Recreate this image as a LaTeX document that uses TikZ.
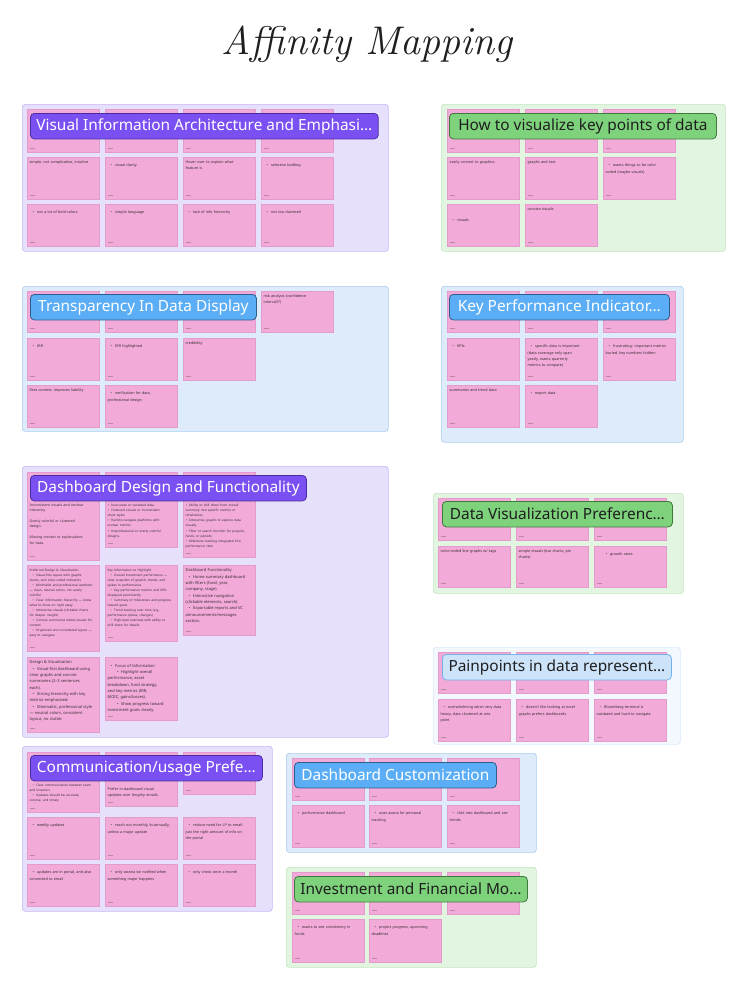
\documentclass[tikz,border=0pt]{standalone}
\usepackage{fontspec}
\newfontfamily\nsans{Noto Sans}
\usetikzlibrary{calc}
\definecolor{stkpink}{HTML}{F2AAD9}
\definecolor{stkedge}{HTML}{E39BCB}
\definecolor{notetext}{HTML}{3A2E36}
\definecolor{purpframe}{HTML}{E7E0FC}
\definecolor{purpedge}{HTML}{C8B7F6}
\definecolor{purptitle}{HTML}{7B50F2}
\definecolor{purptedge}{HTML}{4A2C9E}
\definecolor{greenframe}{HTML}{E2F5E0}
\definecolor{greenedge}{HTML}{C3E6BF}
\definecolor{greentitle}{HTML}{7ED27C}
\definecolor{greentedge}{HTML}{3F7A3C}
\definecolor{blueframe}{HTML}{DDEBFB}
\definecolor{blueedge}{HTML}{AACDF2}
\definecolor{bluetitle}{HTML}{5BAEF6}
\definecolor{bluetedge}{HTML}{2E5E8E}
\definecolor{paleframe}{HTML}{F3F8FE}
\definecolor{paleedge}{HTML}{DCEAF8}
\definecolor{paletitle}{HTML}{CDE3FA}
\definecolor{paletedge}{HTML}{74B2EE}
\definecolor{inkdark}{HTML}{1E1E1E}
\definecolor{footgray}{HTML}{B9879F}
% bullets
\newcommand\bu[1]{\par\hangindent=7.5pt\hangafter=1\noindent\hspace*{3pt}\makebox[4.5pt][l]{\textbullet}#1\par}
\newcommand\bum[1]{\par\hangindent=6.5pt\hangafter=1\noindent\hspace*{3pt}\makebox[3.5pt][l]{\textbullet}#1\par}
\newcommand\bus[1]{\par\hangindent=3.5pt\hangafter=1\noindent\hspace*{0.5pt}\makebox[3pt][l]{\textbullet}#1\par}
\newcommand\bub[1]{\par\hangindent=13.5pt\hangafter=1\noindent\hspace*{9.5pt}\makebox[4pt][l]{\textbullet}#1\par}
\newcommand\fA{\fontsize{3.7}{6.2}\selectfont}
\newcommand\fS{\fontsize{3.15}{5.05}\selectfont}
\newcommand\fL{\fontsize{4.0}{6.3}\selectfont}
% sticky note: [text offset]{name}{x}{y}{height}{content}
\newcommand\stk[6][3.5]{%
  \node[stk, minimum height=#5pt] (#2) at (#3,#4) {};
  \node[stktxt] (#2t) at ([xshift=2.5pt,yshift=-#1pt]#2.north west) {#6};
  \draw[foot] ([xshift=3pt,yshift=3.5pt]#2.south west) -- ++(4.5pt,0);
}
\begin{document}
\begin{tikzpicture}[x=1pt,y=-1pt,
  frm/.style={anchor=north west, rounded corners=3pt, line width=0.7pt, inner sep=0pt},
  stk/.style={anchor=north west, fill=stkpink, draw=stkedge, line width=0.3pt, minimum width=72pt, inner sep=0pt},
  stktxt/.style={anchor=north west, text width=70pt, inner sep=0pt, align=left, text=notetext, font=\nsans\fA},
  foot/.style={draw=footgray, line width=0.9pt},
  ttl/.style={anchor=north west, rounded corners=4pt, line width=0.8pt, minimum height=25.5pt, inner xsep=6pt, inner ysep=0pt, align=center, font=\nsans\fontsize{15.4}{16}\selectfont},
  ptitle/.style={ttl, fill=purptitle, draw=purptedge, text=white},
  gtitle/.style={ttl, fill=greentitle, draw=greentedge, text=inkdark},
  btitle/.style={ttl, fill=bluetitle, draw=bluetedge, text=white},
  pltitle/.style={ttl, fill=paletitle, draw=paletedge, text=inkdark},
]
\fill[white] (0,0) rectangle (748,988);
\path[use as bounding box] (0,0) rectangle (748,988);

% handwritten title
\node[font=\fontsize{40}{40}\selectfont\itshape, text=black!88, inner sep=0pt] (maintitle) at (367,44) {Affinity Mapping};

% ---------------- frames ----------------
\node[frm, fill=purpframe, draw=purpedge, minimum width=366pt, minimum height=147pt] (f1) at (22,104) {};
\node[frm, fill=greenframe, draw=greenedge, minimum width=284pt, minimum height=147pt] (f2) at (441,104) {};
\node[frm, fill=blueframe, draw=blueedge, minimum width=366pt, minimum height=145pt] (f3) at (22,286) {};
\node[frm, fill=blueframe, draw=blueedge, minimum width=242pt, minimum height=156pt] (f4) at (441,286) {};
\node[frm, fill=purpframe, draw=purpedge, minimum width=366pt, minimum height=271pt] (f5) at (22,466) {};
\node[frm, fill=greenframe, draw=greenedge, minimum width=250pt, minimum height=100pt] (f6) at (433,493) {};
\node[frm, fill=paleframe, draw=paleedge, minimum width=247pt, minimum height=97pt] (f7) at (433,647) {};
\node[frm, fill=purpframe, draw=purpedge, minimum width=250pt, minimum height=165pt] (f8) at (22,746) {};
\node[frm, fill=blueframe, draw=blueedge, minimum width=250pt, minimum height=99pt] (f9) at (286,753) {};
\node[frm, fill=greenframe, draw=greenedge, minimum width=250pt, minimum height=100pt] (f10) at (286,867) {};

% ---------------- section 1 ----------------
\stk{a11}{27}{109}{43}{}
\stk{a12}{105}{109}{43}{}
\stk{a13}{183}{109}{43}{}
\stk{a14}{261}{109}{43}{}
\stk{a21}{27}{157}{42}{simple, not complicative, intuitive}
\stk{a22}{105}{157}{42}{\bu{visual clarity}}
\stk{a23}{183}{157}{42}{Hover over to explain what\\feature is}
\stk{a24}{261}{157}{42}{\bu{selective bolding}}
\stk{a31}{27}{204}{42}{\bu{not a lot of bold colors}}
\stk{a32}{105}{204}{42}{\bu{simple language}}
\stk{a33}{183}{204}{42}{\bu{lack of info hierarchy}}
\stk{a34}{261}{204}{42}{\bu{not too cluttered}}

% ---------------- section 2 ----------------
\stk{b11}{447}{109}{43}{}
\stk{b12}{525}{109}{43}{}
\stk{b13}{603}{109}{43}{}
\stk{b21}{447}{157}{42}{easily convert to graphics}
\stk{b22}{525}{157}{42}{graphs and text}
\stk{b23}{603}{157}{42}{\bu{wants things to be color\\coded (maybe visuals)}}
\stk[11]{b31}{447}{204}{42}{\bu{visuals}}
\stk{b32}{525}{204}{42}{concise visuals}

% ---------------- section 3 ----------------
\stk{c11}{27}{291}{41}{}
\stk{c12}{105}{291}{41}{}
\stk{c13}{183}{291}{41}{}
\stk{c14}{261}{291}{41}{risk analysis (confidence\\interval??)}
\stk{c21}{27}{338}{42}{\bu{IRR}}
\stk{c22}{105}{338}{42}{\bu{IRR highlighted}}
\stk{c23}{183}{338}{42}{credibility}
\stk{c31}{27}{385}{42}{likes context, improves liability}
\stk{c32}{105}{385}{42}{\bu{verification for data,\\professional design}}

% ---------------- section 4 ----------------
\stk{k11}{447}{291}{41}{}
\stk{k12}{525}{291}{41}{}
\stk{k13}{603}{291}{41}{}
\stk{k21}{447}{338}{42}{\bu{KPIs}}
\stk{k22}{525}{338}{42}{\bu{specific data is important\\(data coverage only span\\yearly, wants quarterly\\metrics to compare)}}
\stk{k23}{603}{338}{42}{\bu{frustrating: important metrics\\buried, key numbers hidden}}
\stk{k31}{447}{385}{42}{summaries and trend data}
\stk{k32}{525}{385}{42}{\bu{export data}}

% ---------------- section 5 ----------------
\stk[31.5]{d11}{27}{472}{88}{\fontsize{3.5}{5.4}\selectfont Inconsistent visuals and unclear\\hierarchy.\\[5.4pt]Overly colorful or cluttered\\design.\\[5.4pt]Missing context or explanations\\for data.}
\stk[29.5]{d12}{105}{472}{75}{\fS\bus{Inaccurate or outdated data.}\bus{Cluttered visuals or inconsistent\\chart styles}\bus{Hard-to-navigate platforms with\\unclear metrics}\bus{Unprofessional or overly colorful\\designs.}}
\stk[29.5]{d13}{183}{472}{85}{\fS\bus{Ability to drill down from overall\\summary into specific metrics or\\timeframes}\bus{Interactive graphs to explore data\\visually}\bus{Filter or search function for projects,\\funds, or periods}\bus{Milestone tracking integrated into\\performance view}}
\stk{d21}{27}{565}{86}{\fS\textbf{Preferred Design \& Visualization}\bum{Visual-first layout with graphs,\\charts, and color-coded indicators}\bum{Minimalist and professional aesthetic\\— clean, neutral colors, not overly\\colorful}\bum{Clear information hierarchy — know\\what to focus on right away}\bum{Interactive visuals (clickable charts\\for deeper insight)}\bum{Concise summaries below visuals for\\context}\bum{Organized and uncluttered layout —\\easy to navigate}}
\stk{d22}{105}{565}{76}{\fS\textbf{Key Information to Highlight}\bum{Overall investment performance —\\clear snapshot of growth, trends, and\\spikes in performance}\bum{Key performance metrics and KPIs\\displayed prominently}\bum{Summary of milestones and progress\\toward goals}\bum{Trend tracking over time (e.g.,\\performance spikes, changes)}\bum{High-level overview with ability to\\drill down for details}}
\stk[3.7]{d23}{183}{565}{70}{\fL Dashboard Functionality\bu{Home summary dashboard\\with filters (fund, year,\\company, stage).}\bu{Interactive navigation\\(clickable elements, search).}\bu{Exportable reports and VC\\announcements/messages\\section.}}
\stk[3.7]{d31}{27}{657}{75}{\fL Design \& Visualization\bu{Visual-first dashboard using\\clear graphs and concise\\summaries (2–3 sentences\\each).}\bu{Strong hierarchy with key\\metrics emphasized.}\bu{Minimalist, professional style\\— neutral colors, consistent\\layout, no clutter.}}
\stk[3.7]{d32}{105}{657}{63}{\fL\bu{Focus of Information}\bub{Highlight overall\\performance, asset\\breakdown, fund strategy,\\and key metrics (IRR,\\MOIC, gains/losses).}\bub{Show progress toward\\investment goals clearly.}}

% ---------------- section 6 ----------------
\stk{e11}{438}{498}{42}{}
\stk{e12}{516}{498}{42}{}
\stk{e13}{594}{498}{42}{}
\stk{e21}{438}{546}{41}{color-coded line graphs w/ tags}
\stk{e22}{516}{546}{41}{simple visuals (bar charts, pie\\charts)}
\stk{e23}{594}{546}{41}{\bub{growth rates}}

% ---------------- section 7 ----------------
\stk{p11}{438}{652}{41}{}
\stk{p12}{516}{652}{41}{}
\stk{p13}{594}{652}{41}{}
\stk{p21}{438}{699}{42}{\bu{overwhelming when very data\\heavy, data clustered at one\\point}}
\stk{p22}{516}{699}{42}{\bu{doesn't like looking at excel\\graphs prefers dashboards}}
\stk{p23}{594}{699}{42}{\bu{Bloomberg terminal is\\outdated and hard to navigate}}

% ---------------- section 8 ----------------
\stk[29.5]{g11}{27}{752}{60}{\fS\bum{Clear communication between team\\and investors}\bum{Updates should be accurate,\\concise, and timely}}
\stk[35.5]{g12}{105}{752}{54}{Prefer in-dashboard visual\\updates over lengthy emails.}
\stk{g13}{183}{752}{42}{}
\stk{g21}{27}{817}{42}{\bu{weekly updates}}
\stk{g22}{105}{817}{42}{\bu{reach out monthly, bi-annually,\\unless a major update}}
\stk{g23}{183}{817}{42}{\bu{reduce need for LP to email-\\just the right amount of info on\\the portal}}
\stk{g31}{27}{864}{42}{\bu{updates are in portal, and also\\connected to email}}
\stk{g32}{105}{864}{42}{\bu{only wanna be notified when\\something major happens}}
\stk{g33}{183}{864}{42}{\bu{only check once a month}}

% ---------------- section 9 ----------------
\stk{h11}{292}{758}{42}{}
\stk{h12}{369}{758}{42}{}
\stk{h13}{447}{758}{42}{}
\stk{h21}{292}{805}{42}{\bu{performance dashboard}}
\stk{h22}{369}{805}{42}{\bu{uses asana for personal\\tracking}}
\stk{h23}{447}{805}{42}{\bu{click into dashboard and see\\trends}}

% ---------------- section 10 ----------------
\stk{i11}{292}{872}{42}{}
\stk{i12}{369}{872}{42}{}
\stk{i13}{447}{872}{42}{}
\stk{i21}{292}{919}{43}{\bu{wants to see consistency in\\funds}}
\stk{i22}{369}{919}{43}{\bu{project progress, upcoming\\deadlines}}

% ---------------- titles ----------------
\node[ptitle, minimum width=347pt] (t1) at (30,113) {Visual Information Architecture and Emphasi…};
\node[gtitle, minimum width=267pt] (t2) at (449,113) {How to visualize key points of data};
\node[btitle, minimum width=226pt] (t3) at (30,294) {Transparency In Data Display};
\node[btitle, minimum width=220pt] (t4) at (449,294) {Key Performance Indicator…};
\node[ptitle, minimum width=276pt] (t5) at (30,475) {Dashboard Design and Functionality};
\node[gtitle, minimum width=230pt] (t6) at (442,501) {Data Visualization Preferenc…};
\node[pltitle, minimum width=229pt] (t7) at (442,654) {Painpoints in data represent…};
\node[ptitle, minimum width=232pt] (t8) at (30,755) {Communication/usage Prefe…};
\node[btitle, minimum width=202pt] (t9) at (294,762) {Dashboard Customization};
\node[gtitle, minimum width=233pt] (t10) at (294,876) {Investment and Financial Mo…};
\end{tikzpicture}
\end{document}
